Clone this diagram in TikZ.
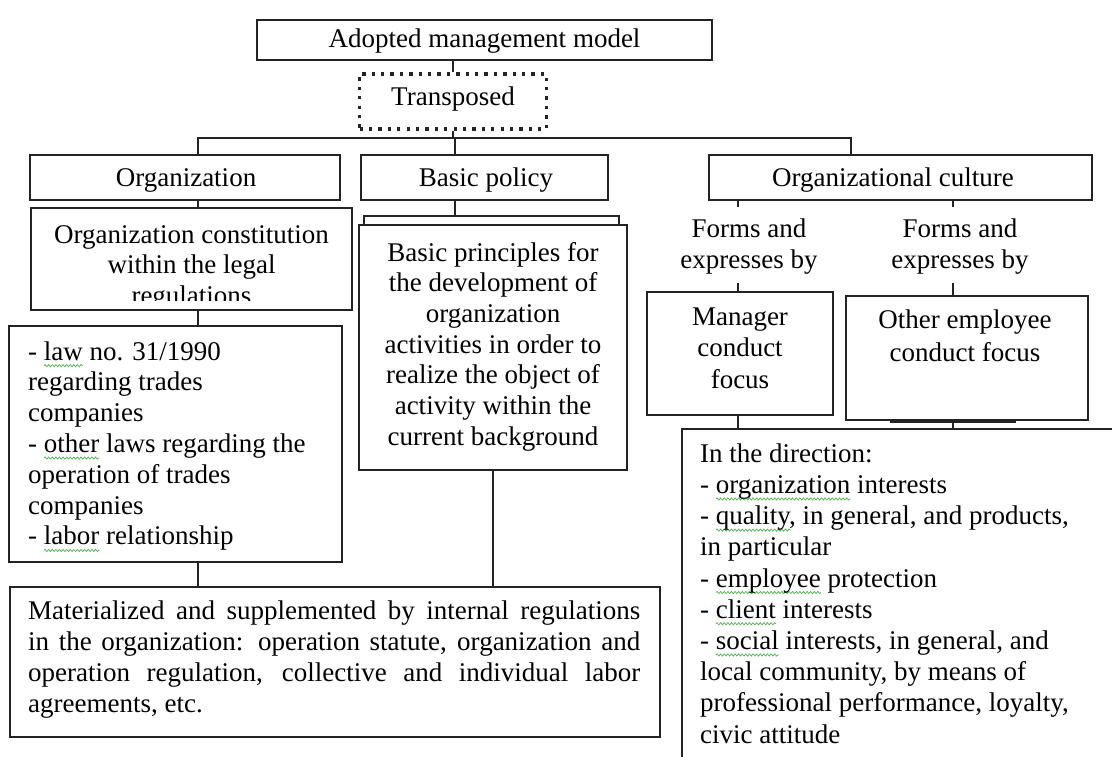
\documentclass[tikz,border=0pt]{standalone}
\usepackage{fontspec}
\setmainfont{Liberation Serif}
\usetikzlibrary{decorations.pathmorphing}
\definecolor{ink}{RGB}{35,35,35}
\definecolor{spell}{RGB}{80,175,80}
% green wavy underline used for flagged words
\newlength\gwlen
\newcommand\gwave[1]{\settowidth\gwlen{#1}\rlap{\tikz[overlay,baseline=0pt,x=1pt,y=1pt]
  \draw[spell,line width=0.7pt,decorate,decoration={snake,amplitude=1.1pt,segment length=3.6pt}]
  (0,-5.5) -- (\gwlen,-5.5);}#1}
\tikzset{
  box/.style={draw=ink, line width=1.4pt, inner sep=0pt},
  wire/.style={draw=ink, line width=2.6pt},
  dotbox/.style={draw=ink, line width=3.3pt, dash pattern=on 3.3pt off 6.1pt, inner sep=0pt},
  lbl/.style={inner sep=0pt, text=black, font=\fontsize{27}{31}\selectfont},
}
\begin{document}
\begin{tikzpicture}[x=1pt,y=-1pt]
\useasboundingbox (0,0) rectangle (1112,757);
\clip (0,0) rectangle (1112,757);

% ---- top of the hierarchy
\node[box,minimum width=455pt,minimum height=40pt] (top) at (484.5,40) {};
\node[lbl,anchor=base] (topT) at (484.5,48) {Adopted management model};
\node[dotbox,minimum width=187pt,minimum height=55pt] (tr) at (453,101.5) {};
\node[lbl,anchor=base] (trT) at (453,106) {Transposed};

% ---- three branches
\node[box,minimum width=310pt,minimum height=45pt] (org) at (185,177.5) {};
\node[lbl,anchor=base] (orgT) at (186,187) {Organization};
\node[box,minimum width=247pt,minimum height=45pt] (bp) at (484.5,177.5) {};
\node[lbl,anchor=base] (bpT) at (486,187) {Basic policy};
\node[box,minimum width=383pt,minimum height=45pt] (cult) at (900.5,177.5) {};
\node[lbl,anchor=base] (cultT) at (893,187) {Organizational culture};

% ---- organization column
\node[box,minimum width=321pt,minimum height=102pt] (cons) at (191.5,259) {};
\begin{scope}
  \clip (31,208) rectangle (352,300);
  \node[lbl,align=center,anchor=north,font=\fontsize{27}{30.5}\selectfont] (consT) at (191.5,221.65)
    {\strut Organization constitution\\within the legal\\regulations};
\end{scope}
\node[box,minimum width=333pt,minimum height=236pt] (law) at (175.5,444) {};
\node[lbl,align=left,anchor=north west,font=\fontsize{27}{30.8}\selectfont] (lawT) at (28,338.4)
  {\strut- \gwave{law} no. 31/1990\\regarding trades\\companies\\- \gwave{other} laws regarding the\\operation of trades\\companies\\- \gwave{labor} relationship};

% ---- basic policy column (second box partly hidden behind the first)
\node[box,line width=2.4pt,minimum width=255pt,minimum height=80pt] (hid) at (491.5,256) {};
\node[box,fill=white,minimum width=268pt,minimum height=245pt] (pr) at (493,347.5) {};
\node[lbl,align=center,anchor=north,font=\fontsize{27}{30.7}\selectfont] (prT) at (493,239.5)
  {\strut Basic principles for\\the development of\\organization\\activities in order to\\realize the object of\\activity within the\\current background};

% ---- common bottom box
\node[box,minimum width=650pt,minimum height=150pt] (bot) at (335,662) {};
\node[lbl,align=left,anchor=north west] (botT) at (28,597.3)
  {\strut\makebox[612pt][s]{Materialized and supplemented by internal regulations}\\
   \makebox[612pt][s]{in the organization: operation statute, organization and}\\
   \makebox[612pt][s]{operation regulation, collective and individual labor}\\
   agreements, etc.};

% ---- organizational culture column
\node[lbl,align=center,anchor=north] (fA) at (749,215.3) {\strut Forms and\\expresses by};
\node[lbl,align=center,anchor=north] (fB) at (960,215.3) {\strut Forms and\\expresses by};
\node[box,minimum width=186pt,minimum height=123pt] (mgr) at (740,353.5) {};
\node[lbl,align=center,anchor=north,font=\fontsize{27}{31.5}\selectfont] (mgrT) at (740,302.95)
  {\strut Manager\\conduct\\focus};
\node[box,minimum width=242pt,minimum height=124pt] (oth) at (967,358) {};
\node[lbl,align=center,anchor=north,font=\fontsize{27}{33}\selectfont] (othT) at (965,304.9)
  {\strut Other employee\\conduct focus};
\node[box,minimum width=448pt,minimum height=351pt] (dir) at (906,604.5) {};
\node[lbl,align=left,anchor=north west,font=\fontsize{27}{31.2}\selectfont] (dirT) at (700,440.2)
  {\strut In the direction:\\- \gwave{organization} interests\\- \gwave{quality}, in general, and products,\\in particular\\- \gwave{employee} protection\\- \gwave{client} interests\\- \gwave{social} interests, in general, and\\local community, by means of\\professional performance, loyalty,\\civic attitude};

% ---- connectors
\coordinate (busL) at (198,138);
\coordinate (busM) at (455,138);
\coordinate (busR) at (851,138);
\coordinate (fa) at (738,207);
\coordinate (fb) at (953,207);
\coordinate (ga) at (738,283);
\coordinate (gb) at (953,283);
\coordinate (shL) at (890,421.5);
\coordinate (shR) at (1016,421.5);

\draw[wire] (tr.north |- top.south) -- (tr.north);
\draw[wire] (tr.south) -- (tr.south |- busM);
\draw[wire] (busL |- org.north) -- (busL) -- (busR) -- (busR |- cult.north);
\draw[wire] (busM) -- (busM |- bp.north);
\draw[wire] (busL |- org.south) -- (busL |- cons.north);
\draw[wire] (busL |- cons.south) -- (busL |- law.north);
\draw[wire] (busL |- law.south) -- (busL |- bot.north);
\draw[wire] (busM |- bp.south) -- (busM |- hid.north);
\draw[wire] (pr.south) -- (pr.south |- bot.north);
\draw[wire] (fa |- cult.south) -- (fa);
\draw[wire] (fb |- cult.south) -- (fb);
\draw[wire] (ga) -- (ga |- mgr.north);
\draw[wire] (gb) -- (gb |- oth.north);
\draw[wire] (ga |- mgr.south) -- (ga |- dir.north);
\draw[wire] (gb |- oth.south) -- (gb |- dir.north);
\draw[wire] (shL) -- (shR);
\end{tikzpicture}
\end{document}
